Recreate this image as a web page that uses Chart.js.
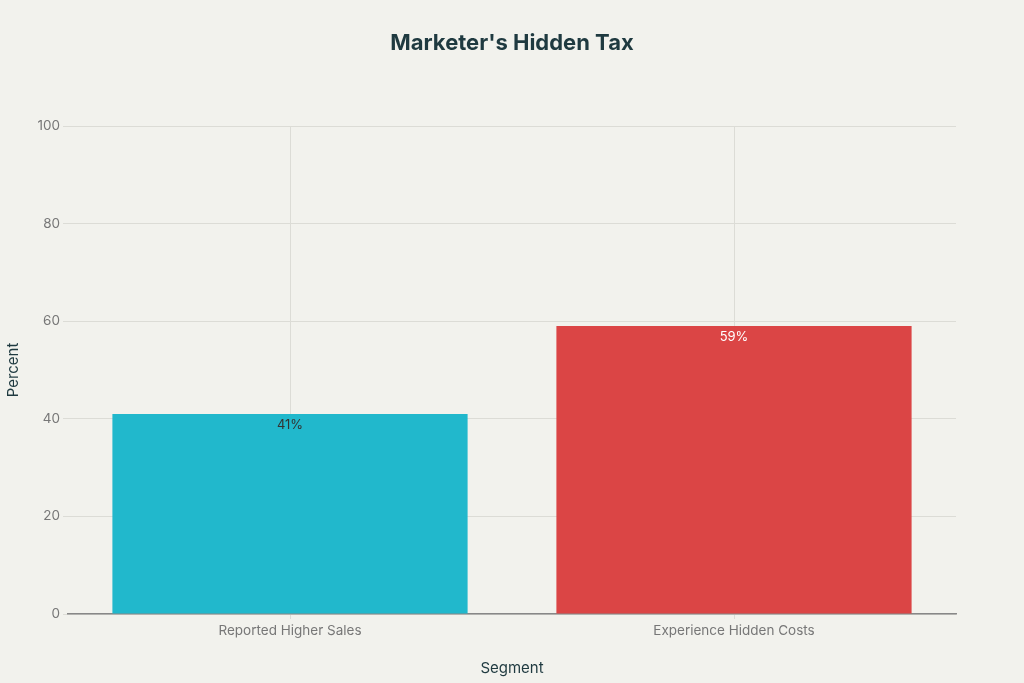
<!DOCTYPE html>
<html>
<head>
<meta charset="utf-8">
<script src="https://cdn.jsdelivr.net/npm/chart.js@4"></script>
<style>
  html, body { margin: 0; padding: 0; background: #f2f2ed; }
  #wrap { width: 1024px; height: 683px; }
</style>
</head>
<body>
<div id="wrap"><canvas id="graphTax" width="1024" height="683"></canvas></div>
<script>
// datos de la gráfica
const chartTitle = "Marketer's Hidden Tax";
const segments = ['Reported Higher Sales', 'Experience Hidden Costs'];
const percentValues = [41, 59];
const barColors = ['#21b8cc', '#db4545'];
const labelColors = ['#333333', '#ffffff'];
const yTicks = [0, 20, 40, 60, 80, 100];

const fontFam = 'Inter, "DejaVu Sans", sans-serif';

// etiquetas dentro de cada barra + título centrado en el lienzo
const barLabels = {
    id: 'barLabels',
    afterDatasetsDraw(chart) {
        const ctx = chart.ctx;
        const meta = chart.getDatasetMeta(0);
        ctx.save();
        ctx.font = '13px ' + fontFam;
        ctx.textAlign = 'center';
        ctx.textBaseline = 'middle';
        meta.data.forEach(function(bar, i) {
            ctx.fillStyle = labelColors[i];
            ctx.fillText(percentValues[i] + '%', bar.x, bar.y + 11);
        });
        ctx.font = 'bold 22px ' + fontFam;
        ctx.fillStyle = '#1f3a40';
        ctx.fillText(chartTitle, chart.width / 2, 43);
        ctx.restore();
    }
};

const graphTax = document.querySelector('#graphTax');
const dataTax = {
    labels: segments,
    datasets: [{
        data: percentValues,
        backgroundColor: barColors,
        borderWidth: 0,
        categoryPercentage: 0.8,
        barPercentage: 1.0
    }]
};

const configTax = {
    type: 'bar',
    data: dataTax,
    plugins: [barLabels],
    options: {
        responsive: false,
        animation: false,
        layout: { padding: { left: 0, right: 68, top: 126, bottom: 0 } },
        plugins: {
            legend: { display: false },
            tooltip: { enabled: false },
            title: { display: false }
        },
        scales: {
            x: {
                grid: { offset: false, color: '#dcdcd6', drawTicks: true, tickLength: 5, tickColor: '#dcdcd6' },
                border: { color: '#888888', width: 1.5 },
                ticks: { color: '#777777', font: { family: fontFam, size: 13.5 }, padding: 4 },
                title: {
                    display: true, text: 'Segment', color: '#1f3a40',
                    font: { family: fontFam, size: 15 }, padding: { top: 5, bottom: 6 }
                },
                afterFit(scale) { scale.height = 69; }
            },
            y: {
                min: 0,
                max: 100,
                afterBuildTicks(scale) { scale.ticks = yTicks.map(v => ({ value: v })); },
                grid: { color: '#dcdcd6', tickLength: 5, tickColor: '#dcdcd6' },
                border: { display: false },
                ticks: { color: '#777777', font: { family: fontFam, size: 13.5 }, padding: 3 },
                title: {
                    display: true, text: 'Percent', color: '#1f3a40',
                    font: { family: fontFam, size: 15 }, padding: { bottom: 4 }
                },
                afterFit(scale) { scale.width = 68; }
            }
        }
    }
};

new Chart(graphTax, configTax);
</script>
</body>
</html>
